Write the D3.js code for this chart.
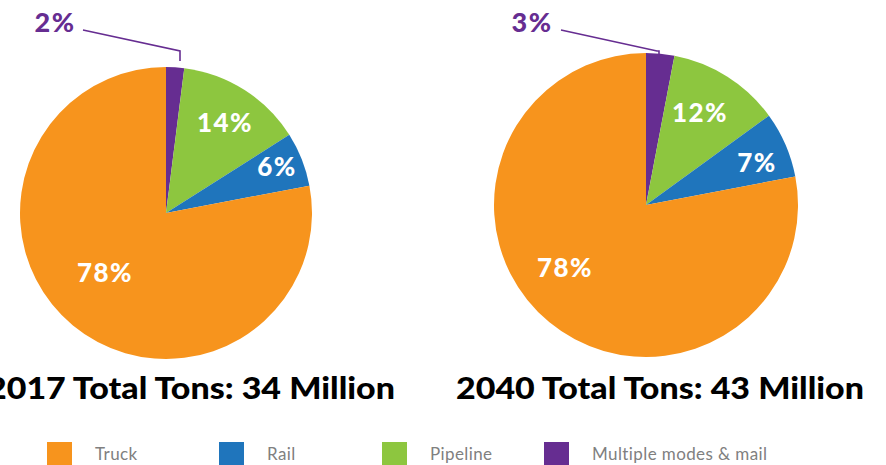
<!DOCTYPE html>
<html><head><meta charset="utf-8">
<script src="https://cdn.jsdelivr.net/npm/d3@7"></script>
<style>
html,body{margin:0;padding:0;background:#fff;overflow:hidden}
svg{display:block}
text{font-family:"Lato","Open Sans",sans-serif}
</style></head>
<body>
<svg id="chart" width="886" height="465"></svg>
<script>
const categories = ["Multiple modes & mail", "Pipeline", "Rail", "Truck"];
const values2017 = [2, 14, 6, 78];
const values2040 = [3, 12, 7, 78];
const titles = ["2017 Total Tons: 34 Million", "2040 Total Tons: 43 Million"];
const legendOrder = ["Truck", "Rail", "Pipeline", "Multiple modes & mail"];
const colors = ["#662D91", "#8DC63F", "#1F75BC", "#F7941D"];

const svg = d3.select("#chart");
const color = d3.scaleOrdinal().domain(categories).range(colors);

const pies = [
  {values: values2017, cx: 166, cy: 213, r: 146, title: titles[0], tx: 191,
   labelPos: [[55, 32], [225, 132], [277, 176], [105, 282]],
   leader: [[83, 30], [180, 51], [180, 61]]},
  {values: values2040, cx: 646, cy: 205, r: 152, title: titles[1], tx: 660,
   labelPos: [[532, 32], [700, 122], [757, 172], [565, 277]],
   leader: [[561, 30], [657, 51], [659, 51], [659, 54]]}
];

const pieGen = d3.pie().sort(null).value(d => d.v);

pies.forEach(p => {
  const data = categories.map((c, i) => ({c, v: p.values[i]}));
  const arcs = pieGen(data);
  const arc = d3.arc().innerRadius(0).outerRadius(p.r);
  const g = svg.append("g").attr("transform", `translate(${p.cx},${p.cy})`);
  g.selectAll("path").data(arcs).join("path")
    .attr("d", arc)
    .attr("fill", d => color(d.data.c));

  svg.append("path")
    .attr("d", d3.line()(p.leader))
    .attr("fill", "none")
    .attr("stroke", colors[0])
    .attr("stroke-width", 1.6);

  arcs.forEach((a, i) => {
    const [x, y] = p.labelPos[i];
    svg.append("text")
      .attr("x", x).attr("y", y)
      .attr("text-anchor", "middle")
      .attr("font-size", i === 0 ? 27 : 26)
      .attr("font-weight", 900)
      .attr("letter-spacing", 1.5)
      .attr("fill", i === 0 ? colors[0] : "#fff")
      .text(a.data.v + "%");
  });

  svg.append("text")
    .attr("x", p.tx).attr("y", 399)
    .attr("text-anchor", "middle")
    .attr("font-size", 30)
    .attr("font-weight", 900)
    .attr("fill", "#000")
    .attr("textLength", 408)
    .attr("lengthAdjust", "spacingAndGlyphs")
    .text(p.title);
});

const legendX = [47, 219, 382, 544];
const lg = svg.append("g");
legendOrder.forEach((name, i) => {
  lg.append("rect")
    .attr("x", legendX[i]).attr("y", 442)
    .attr("width", 25).attr("height", 25)
    .attr("fill", color(name));
  lg.append("text")
    .attr("x", legendX[i] + 48).attr("y", 460)
    .attr("font-size", 17)
    .attr("letter-spacing", 0.4)
    .attr("fill", "#808080")
    .text(name);
});
</script>
</body></html>
